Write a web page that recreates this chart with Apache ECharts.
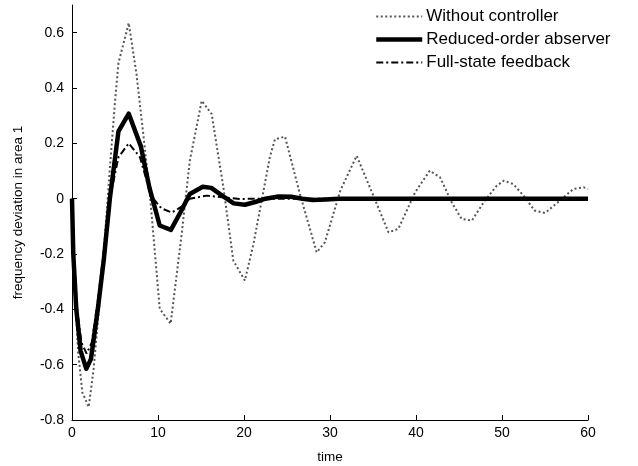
<!DOCTYPE html>
<html>
<head>
<meta charset="utf-8">
<script src="https://cdn.jsdelivr.net/npm/echarts@6/dist/echarts.min.js"></script>
<style>
html,body{margin:0;padding:0;background:#fff;overflow:hidden;}
#chart{width:638px;height:466px;}
</style>
</head>
<body>
<div id="chart"></div>
<script>
// ---- data ----
const seriesNames = ['Without controller', 'Reduced-order abserver', 'Full-state feedback'];

const tWithout = [0,0.3,0.7,1.2,1.94,2.5,2.9,3.6,4.4,5.0,5.4,6.6,7.5,8.3,9.1,10.2,11.47,12.75,13.7,15.08,16.24,17.6,18.76,20.1,21.1,23.0,23.6,24.77,26.5,28.45,29.4,31.2,33.1,35.2,36.8,37.95,39.9,41.6,42.8,44.15,45.3,46.5,48.0,49.4,50.2,51.3,52.5,53.8,55.0,56.5,58.3,59.5,60];
const vWithout = [0,-0.3,-0.55,-0.7,-0.753,-0.62,-0.48,-0.24,0.11,0.35,0.49,0.635,0.45,0.23,0.0,-0.398,-0.452,-0.128,0.137,0.354,0.306,0.041,-0.224,-0.296,-0.164,0.149,0.215,0.224,0.017,-0.194,-0.158,0.029,0.155,-0.001,-0.122,-0.109,0.023,0.101,0.077,-0.013,-0.073,-0.079,-0.007,0.047,0.065,0.053,0.011,-0.043,-0.052,-0.013,0.035,0.041,0.035];

const tReduced = [0,0.15,0.5,1.0,1.66,2.2,3.0,3.7,4.4,5.4,6.6,8.0,9.0,10.2,11.5,12.6,13.7,15.2,16.2,17.5,18.8,20.1,21.3,22.5,24.0,25.5,26.8,28.0,29.5,31.0,60];
const vReduced = [0,-0.2,-0.4,-0.55,-0.615,-0.58,-0.40,-0.22,0.0,0.243,0.307,0.19,0.04,-0.097,-0.113,-0.05,0.017,0.043,0.039,0.01,-0.017,-0.022,-0.012,0.0,0.008,0.007,0.0,-0.005,-0.003,0.0,0.0];

const tFull = [0,0.2,0.6,1.1,1.7,2.3,3.0,3.7,4.4,5.4,6.6,7.9,9.2,10.4,11.6,12.7,13.7,15.7,17.5,19.5,22.0,60];
const vFull = [0,-0.2,-0.4,-0.52,-0.56,-0.52,-0.37,-0.19,0.0,0.15,0.2,0.15,0.01,-0.035,-0.05,-0.03,0.0,0.011,0.005,-0.001,0.0,0.0];

const xTicks = [0,10,20,30,40,50,60];
const yTicks = [-0.8,-0.6,-0.4,-0.2,0,0.2,0.4,0.6];

function zip(t, v){ return t.map((x,i)=>[x, v[i]]); }

const styles = [
  {color:'#555', width:2, type:[2,2.5]},
  {color:'#000', width:4.5, type:'solid'},
  {color:'#000', width:2, type:[7,3,2,3]}
];

const chart = echarts.init(document.getElementById('chart'), null, {renderer:'canvas'});
const font = 'Arial, "Liberation Sans", sans-serif';
chart.setOption({
  animation:false,
  backgroundColor:'#fff',
  grid:{left:72, right:50, top:5, bottom:46, containLabel:false, outerBoundsMode:'none'},
  legend:{
    orient:'vertical', left:374, top:8, padding:0,
    itemWidth:46, itemHeight:14, itemGap:6,
    textStyle:{fontFamily:font, fontSize:17, color:'#000', padding:[0,0,0,-1]},
    data: seriesNames.map((n,i)=>({name:n, itemStyle:{opacity:0}, lineStyle:Object.assign({}, styles[i])}))
  },
  xAxis:{
    type:'value', min:0, max:60, interval:10,
    name:'time', nameLocation:'middle', nameGap:30,
    nameTextStyle:{fontFamily:font, fontSize:13.5, color:'#000'},
    axisLine:{show:true, onZero:false, lineStyle:{color:'#000', width:1}},
    axisTick:{show:true, inside:true, length:5, lineStyle:{color:'#000'}},
    axisLabel:{fontFamily:font, fontSize:14, color:'#000', margin:6,
      formatter:v=> xTicks.includes(v) ? String(v) : ''},
    splitLine:{show:false}
  },
  yAxis:{
    type:'value', min:-0.8, max:0.7, interval:0.2,
    name:'frequency deviation in area 1', nameLocation:'middle', nameGap:47,
    nameTextStyle:{fontFamily:font, fontSize:13.5, color:'#000'},
    axisLine:{show:true, onZero:false, lineStyle:{color:'#000', width:1}},
    axisTick:{show:true, inside:true, length:5, lineStyle:{color:'#000'}},
    axisLabel:{fontFamily:font, fontSize:14, color:'#000', margin:8, showMaxLabel:false,
      formatter:v=>{ const r=Math.round(v*10)/10; return yTicks.some(t=>Math.abs(t-r)<1e-9) && Math.abs(v-0.7)>1e-6 ? String(r) : ''; }},
    splitLine:{show:false}
  },
  series:[
    {name:seriesNames[0], type:'line', data:zip(tWithout,vWithout), symbol:'none', z:1,
     lineStyle:styles[0], itemStyle:{color:'#555'}},
    {name:seriesNames[1], type:'line', data:zip(tReduced,vReduced), symbol:'none', z:3,
     lineStyle:Object.assign({join:'round'}, styles[1]), itemStyle:{color:'#000'}},
    {name:seriesNames[2], type:'line', data:zip(tFull,vFull), symbol:'none', z:2,
     lineStyle:styles[2], itemStyle:{color:'#000'}}
  ]
});
</script>
</body>
</html>
